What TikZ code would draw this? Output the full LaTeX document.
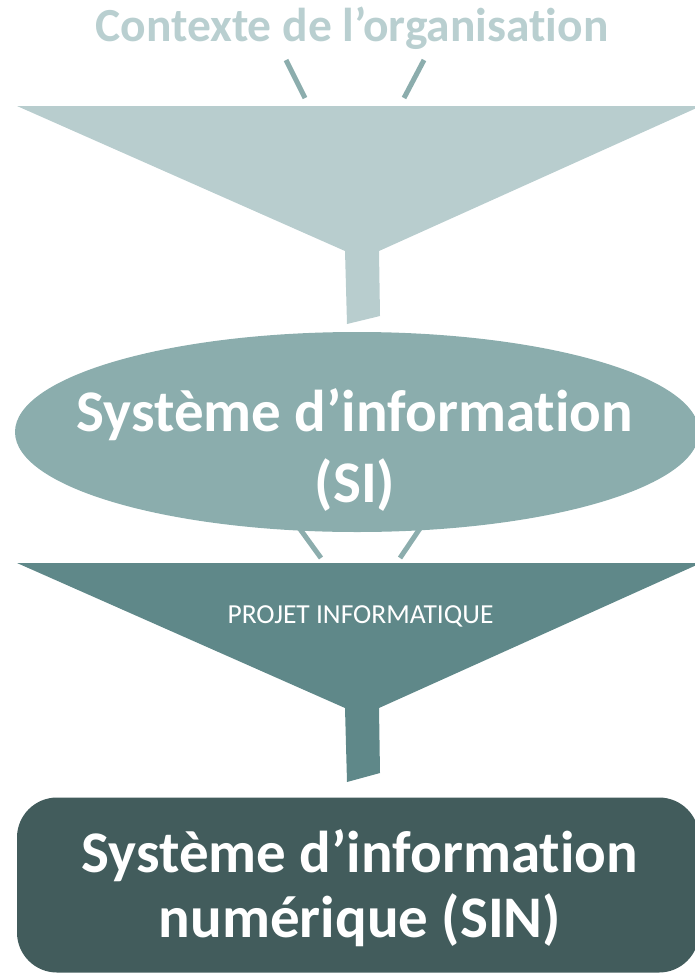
\documentclass[tikz,border=0pt]{standalone}
\usepackage{fontspec}
\setmainfont{Carlito}[Ligatures=NoCommon]
\usetikzlibrary{shapes.geometric}
\definecolor{ctxtext}{HTML}{B9CFD0}
\definecolor{funA}{HTML}{B8CDCE}
\definecolor{tick}{HTML}{8CADAD}
\definecolor{ellc}{HTML}{8BADAD}
\definecolor{funB}{HTML}{5F8889}
\definecolor{boxc}{HTML}{425C5C}
\tikzset{
  tickline/.style={draw=tick, line width=5pt},
  bigtext/.style={text=white, font=\fontsize{59}{71}\selectfont\bfseries, align=center, inner sep=0pt, anchor=base},
}
\begin{document}
\begin{tikzpicture}[x=1pt,y=-1pt]
\useasboundingbox (0,0) rectangle (695,974);
% title
\node[text=ctxtext, font=\fontsize{47.5}{54}\selectfont\bfseries, inner sep=0pt, anchor=base] (ctx) at (352,42) {Contexte de l’organisation};
% top ticks
\coordinate (t1a) at (286,60); \coordinate (t1b) at (305,98);
\coordinate (t2a) at (424,60); \coordinate (t2b) at (404,98);
\draw[tickline] (t1a) -- (t1b);
\draw[tickline] (t2a) -- (t2b);
% funnel 1
\fill[funA] (17,106) -- (701,106) -- (379,251) -- (380,316) -- (347,324) -- (345,251) -- cycle;
% lower ticks (partly behind ellipse)
\coordinate (t3a) at (292,518); \coordinate (t3b) at (321,558);
\coordinate (t4a) at (427,518); \coordinate (t4b) at (400,558);
\draw[tickline] (t3a) -- (t3b);
\draw[tickline] (t4a) -- (t4b);
% ellipse
\node[ellipse, fill=ellc, minimum width=684pt, minimum height=200pt, inner sep=0pt] (si) at (357,432) {};
\node[bigtext] (sitext) at (355,502) {Système d’information\\(SI)};
% funnel 2
\fill[funB] (17,563) -- (701,563) -- (379,708) -- (380,773) -- (347,782) -- (345,708) -- cycle;
\node[text=white, font=\fontsize{27.5}{32}\selectfont, inner sep=0pt, anchor=base] (proj) at (360.5,623) {PROJET INFORMATIQUE};
% final box
\node[fill=boxc, rounded corners=40pt, minimum width=682pt, minimum height=175pt, inner sep=0pt] (sin) at (358,885) {};
\node[bigtext, font=\fontsize{59}{65}\selectfont\bfseries] (sintext) at (360,937) {Système d’information\\numérique (SIN)};
\end{tikzpicture}
\end{document}
